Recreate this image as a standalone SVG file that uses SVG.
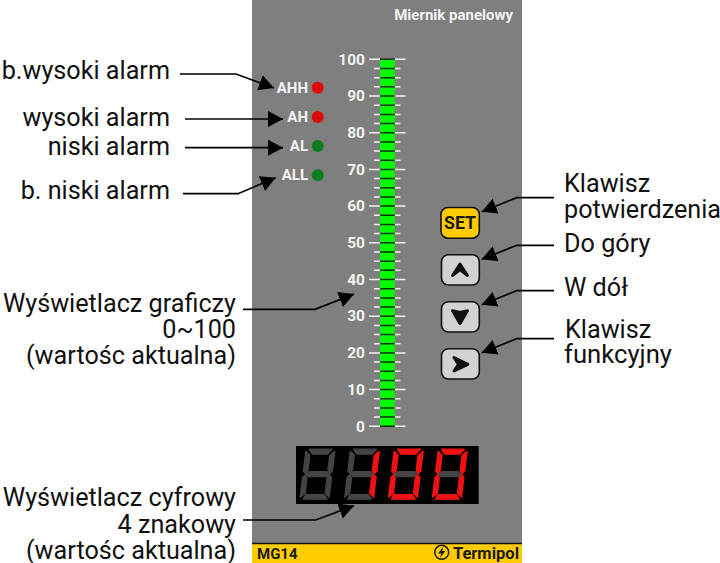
<svg xmlns="http://www.w3.org/2000/svg" width="720" height="563" viewBox="0 0 720 563">
<style>
text{font-family:Roboto,"Liberation Sans",sans-serif}
.lab{font-size:25.2px;fill:#111}
.e{text-anchor:end}
.w{font-size:15.5px;font-weight:700;fill:#f2f2f2;text-anchor:end}
.l{font-size:15px}
.b{font-weight:700;fill:#1a1a1a}
.con{fill:none;stroke:#000;stroke-width:1.7;marker-end:url(#ah)}
.btn{fill:#d2d2d2;stroke:#111;stroke-width:1.6}
.gl{fill:#111;stroke:#111;stroke-linejoin:round}
.off{fill:#444;stroke:#444}
.on{fill:#f01212;stroke:#f01212}
polygon{stroke-width:1.3;stroke-linejoin:round}
polygon.gl{stroke-width:3}
</style>
<defs>
<marker id="ah" markerUnits="userSpaceOnUse" markerWidth="16" markerHeight="18" refX="15" refY="8.5" orient="auto" viewBox="0 0 16 17"><path d="M0 .5L15 8.5L0 16.5Z" fill="#000"/></marker>
<polygon id="sa" points="9,0 32,0 27.4,5 12.4,5"/>
<polygon id="sb" points="34.8,2 32.4,22 29.6,24.5 27.9,21 29.8,6"/>
<polygon id="sc" points="29.2,48 31.6,28 29.4,25.5 27,29 25.2,44"/>
<polygon id="sd" points="3,50 27,50 24,45.5 5.5,45.5"/>
<polygon id="se" points=".2,48 2.6,28 5.4,25.5 7,29 5.2,44"/>
<polygon id="sf" points="5.8,2 3.4,22 5.5,24.5 8,21 9.8,6"/>
<polygon id="sg" points="6,25 8.8,22.5 26.8,22.5 29,25 26.4,27.5 8.2,27.5"/>
<g id="afed"><use href="#sa"/><use href="#sd"/><use href="#se"/><use href="#sf"/></g>
</defs>
<rect width="720" height="563" fill="#fff"/>
<g id="panel">
<rect x="252" y="0" width="270" height="563" fill="#7f7f7f"/>
<rect x="252" y="543.5" width="270" height="19.5" fill="#ffcc00"/>
<path d="M252 543.5H522" stroke="#111" stroke-width="1.6"/>
<text x="513" y="20" class="w" style="font-size:15px">Miernik panelowy</text>
</g>
<g id="bargraph">
<rect x="380" y="59" width="14.7" height="368" fill="#00ff00"/>
<path fill="none" stroke="#f2f2f2" stroke-width="1.5" d="M369 59.3h11M395 59.3h10.500M369 96h11M395 96h10.500M369 132.700h11M395 132.700h10.500M369 169.400h11M395 169.400h10.500M369 206.100h11M395 206.100h10.500M369 242.800h11M395 242.800h10.500M369 279.500h11M395 279.500h10.500M369 316.200h11M395 316.200h10.500M369 352.900h11M395 352.900h10.500M369 389.600h11M395 389.600h10.500M369 426.300h11M395 426.300h10.500"/>
<path fill="none" stroke="#f2f2f2" stroke-width="1.5" d="M374 68.500h6M395 68.500h5.500M374 77.700h6M395 77.700h5.500M374 86.800h6M395 86.800h5.500M374 105.200h6M395 105.200h5.500M374 114.400h6M395 114.400h5.500M374 123.500h6M395 123.500h5.500M374 141.900h6M395 141.900h5.500M374 151.100h6M395 151.100h5.500M374 160.200h6M395 160.200h5.500M374 178.600h6M395 178.600h5.500M374 187.800h6M395 187.800h5.500M374 196.900h6M395 196.900h5.500M374 215.300h6M395 215.300h5.500M374 224.500h6M395 224.500h5.500M374 233.600h6M395 233.600h5.500M374 252h6M395 252h5.500M374 261.200h6M395 261.200h5.500M374 270.300h6M395 270.300h5.500M374 288.700h6M395 288.700h5.500M374 297.900h6M395 297.900h5.500M374 307h6M395 307h5.500M374 325.400h6M395 325.400h5.500M374 334.600h6M395 334.600h5.500M374 343.700h6M395 343.700h5.500M374 362.100h6M395 362.100h5.500M374 371.300h6M395 371.300h5.500M374 380.400h6M395 380.400h5.500M374 398.800h6M395 398.800h5.500M374 408h6M395 408h5.500M374 417.100h6M395 417.100h5.500"/>
<path fill="none" stroke="#0a2a0a" stroke-width="1.5" d="M380 59.300h14.700M380 68.500h14.700M380 77.700h14.700M380 86.800h14.700M380 96h14.700M380 105.200h14.700M380 114.400h14.700M380 123.500h14.700M380 132.700h14.700M380 141.900h14.700M380 151.100h14.700M380 160.200h14.700M380 169.400h14.700M380 178.600h14.700M380 187.800h14.700M380 196.900h14.700M380 206.100h14.700M380 215.300h14.700M380 224.500h14.700M380 233.600h14.700M380 242.800h14.700M380 252h14.700M380 261.200h14.700M380 270.300h14.700M380 279.500h14.700M380 288.700h14.700M380 297.900h14.700M380 307h14.700M380 316.200h14.700M380 325.400h14.700M380 334.600h14.700M380 343.700h14.700M380 352.900h14.700M380 362.100h14.700M380 371.300h14.700M380 380.400h14.700M380 389.600h14.700M380 398.800h14.700M380 408h14.700M380 417.100h14.700M380 426.300h14.700"/>
<g>
<text x="365" y="64.500" class="w">100</text>
<text x="365" y="101.200" class="w">90</text>
<text x="365" y="137.900" class="w">80</text>
<text x="365" y="174.600" class="w">70</text>
<text x="365" y="211.300" class="w">60</text>
<text x="365" y="248" class="w">50</text>
<text x="365" y="284.700" class="w">40</text>
<text x="365" y="321.400" class="w">30</text>
<text x="365" y="358.100" class="w">20</text>
<text x="365" y="394.800" class="w">10</text>
<text x="365" y="431.500" class="w">0</text>
</g>
</g>
<g id="led-ahh"><text x="308" y="92.800" class="w l">AHH</text><circle cx="317.700" cy="87.700" r="6" fill="#dd0a0a"/></g>
<g id="led-ah"><text x="308" y="122" class="w l">AH</text><circle cx="317.700" cy="117" r="6" fill="#dd0a0a"/></g>
<g id="led-al"><text x="308" y="151.200" class="w l">AL</text><circle cx="317.700" cy="146" r="6" fill="#0b7d1c"/></g>
<g id="led-all"><text x="308" y="180.400" class="w l">ALL</text><circle cx="317.700" cy="175.300" r="6" fill="#0b7d1c"/></g>
<g id="btn-set"><rect x="441" y="207.500" width="38.300" height="30.700" rx="7" fill="#ffcc00" stroke="#111" stroke-width="1.600"/><text x="460" y="229" text-anchor="middle" class="b" style="font-size:18.500px" textLength="32" lengthAdjust="spacingAndGlyphs">SET</text></g>
<g id="btn-up"><rect class="btn" x="441.500" y="254.700" width="37.800" height="30.300" rx="7"/><polygon class="gl" points="460,264 467.500,275.500 460,269.500 452.500,275.500"/></g>
<g id="btn-down"><rect class="btn" x="441.500" y="301.700" width="37.800" height="30.300" rx="7"/><polygon class="gl" points="460,323.500 467.500,310.800 460,312.500 452.500,310.800"/></g>
<g id="btn-right"><rect class="btn" x="441.500" y="348.700" width="37.800" height="30.300" rx="7"/><polygon class="gl" points="467.800,364.300 454,357.500 458.500,364.300 454,371"/></g>
<g id="display">
<rect x="296" y="446" width="182.700" height="58" fill="#000"/>
<g transform="translate(300 449.200)"><g class="off"><use href="#afed"/><use href="#sb"/><use href="#sc"/><use href="#sg"/></g></g>
<g transform="translate(344.500 449.200)"><g class="off"><use href="#afed"/><use href="#sg"/></g><g class="on"><use href="#sb"/><use href="#sc"/></g></g>
<g transform="translate(388.300 449.200)"><g class="off"><use href="#sg"/></g><g class="on"><use href="#afed"/><use href="#sb"/><use href="#sc"/></g></g>
<g transform="translate(432.300 449.200)"><g class="off"><use href="#sg"/></g><g class="on"><use href="#afed"/><use href="#sb"/><use href="#sc"/></g></g>
</g>
<g id="brand">
<text x="257" y="558.500" class="b" style="font-size:15px">MG14</text>
<circle cx="441.700" cy="552.300" r="7" fill="none" stroke="#1a1a1a" stroke-width="1.500"/>
<path d="M443.500 546.500L438 553.500H441.200L439.800 558L445.500 551H442.200Z" fill="#1a1a1a"/>
<text x="519" y="558.500" class="b e" style="font-size:16.500px">Termipol</text>
</g>
<g id="connectors">
<polyline class="con" points="180,74 236,74 274,88"/>
<polyline class="con" points="185,119 283,119"/>
<polyline class="con" points="185,147.700 283,147.700"/>
<polyline class="con" points="183,193.700 238,193.700 275.700,177.700"/>
<polyline class="con" points="243,309.300 315,309.300 354,294"/>
<polyline class="con" points="243,520 315.700,520 354,505.700"/>
<polyline class="con" points="554,197.700 516.700,197.700 481.700,211.700"/>
<polyline class="con" points="554,245.300 516.700,245.300 481.700,259.300"/>
<polyline class="con" points="554,290.700 516.700,290.700 481.700,304.700"/>
<polyline class="con" points="554,338.700 516.700,338.700 481.700,352.700"/>
</g>
<g id="labels">
<text x="170" y="78.800" class="lab e">b.wysoki alarm</text>
<text x="170" y="125.700" class="lab e">wysoki alarm</text>
<text x="170" y="155" class="lab e">niski alarm</text>
<text x="170" y="198.500" class="lab e">b. niski alarm</text>
<text x="236" y="311.700" class="lab e">Wyświetlacz graficzy</text>
<text x="236" y="338" class="lab e">0~100</text>
<text x="236" y="363.500" class="lab e">(wartośc aktualna)</text>
<text x="236" y="506" class="lab e">Wyświetlacz cyfrowy</text>
<text x="236" y="532.500" class="lab e">4 znakowy</text>
<text x="236" y="558.500" class="lab e">(wartośc aktualna)</text>
<text x="564" y="191.700" class="lab">Klawisz</text>
<text x="564" y="217.700" class="lab">potwierdzenia</text>
<text x="564" y="251.700" class="lab">Do góry</text>
<text x="564" y="296.200" class="lab">W dół</text>
<text x="565" y="337.700" class="lab">Klawisz</text>
<text x="564" y="362.700" class="lab" textLength="108" lengthAdjust="spacingAndGlyphs">funkcyjny</text>
</g>
</svg>
